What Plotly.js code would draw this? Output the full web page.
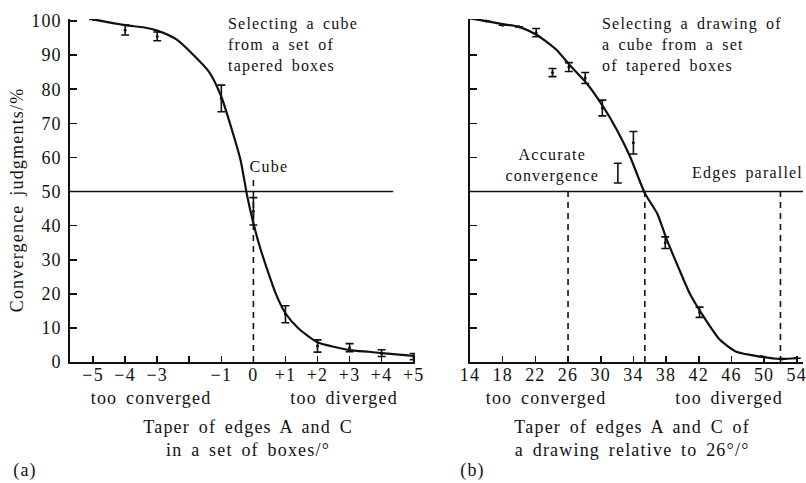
<!DOCTYPE html>
<html>
<head>
<meta charset="utf-8">
<script src="https://cdn.plot.ly/plotly-3.0.1.min.js"></script>
<style>
  html, body { margin: 0; padding: 0; background: #fff; }
  #chart text { letter-spacing: 1.2px; word-spacing: 3px; }
</style>
</head>
<body>
<div id="chart" style="width:806px;height:483px;"></div>
<script>
// ---- Panel (a) data ----
const curveA_x = [-5, -4, -3.4, -3, -2.4, -1.4, -1, -0.7, -0.4, -0.2, 0, 0.2, 0.4, 0.7, 1, 1.4, 2, 3, 3.6, 4, 5];
const curveA_y = [100.5, 98.8, 98.1, 97.2, 94.6, 85.3, 77.8, 69, 59.2, 49, 40.7, 33.8, 28, 20, 14.3, 9.9, 5.8, 3.5, 3.0, 2.6, 1.8];
const errA_x = [-5, -4, -3, -1, 0, 1, 2, 3, 4, 5];
const errA_y = [100.5, 97.4, 95.5, 77.3, 44.2, 14, 4.7, 4.2, 2.6, 1.6];
const errA_e = [0, 1.5, 1.3, 3.9, 4.0, 2.5, 1.8, 1.2, 1.0, 0.9];
const tickA_vals = [-5, -4, -3, -2, -1, 0, 1, 2, 3, 4, 5];
const tickA_text = ["\u22125", "\u22124", "\u22123", "", "\u22121", "0", "+1", "+2", "+3", "+4", "+5"];

// ---- Panel (b) data ----
const curveB_x = [14, 16, 18, 20, 22.2, 24.6, 26.2, 28.3, 30.3, 32, 33.6, 35.4, 36.9, 38.1, 39.3, 40.9, 42.2, 44.6, 46.6, 49.5, 52, 54];
const curveB_y = [100.8, 100, 99.1, 98.3, 95.9, 91.5, 87.1, 81.7, 74.9, 68, 60.2, 49.5, 43.6, 35.8, 28.9, 20.1, 14.8, 6.5, 3.0, 1.6, 0.9, 1.1];
const errB_x = [16, 18, 20, 22.1, 24.1, 26.1, 28.1, 30.2, 34, 37.9, 42.1, 49.7, 52.2, 54];
const errB_y = [100, 98.8, 98.3, 96.6, 84.9, 86.5, 83.3, 74.5, 64.3, 35, 14.6, 1.6, 0.9, 1.1];
const errB_e = [0, 0, 0, 1.2, 1.2, 1.3, 1.6, 2.3, 3.3, 1.7, 1.5, 0, 0, 0];
const barB_x = [32.1];   // error bar drawn without a centre dot
const barB_y = [55.4];
const barB_e = [2.9];
const tickB_vals = [14, 18, 22, 26, 30, 34, 38, 42, 46, 50, 54];
const yTicks = [0, 10, 20, 30, 40, 50, 60, 70, 80, 90, 100];

// reference lines
const refLevel = 50;
const cubeX = 0;
const dashedB = [26, 35.4, 52];

const W = 806, H = 483;
const px = v => v / W;
const py = v => 1 - v / H;
const FONT = "Liberation Serif, Times New Roman, serif";

const lineStyle = {color: "#111", width: 2.2};
const errStyle = (arr) => ({type: "data", array: arr, visible: true, color: "#111", thickness: 1.6, width: 4});

const traces = [
  {x: curveA_x, y: curveA_y, mode: "lines", line: Object.assign({shape: "spline", smoothing: 0.6}, lineStyle), xaxis: "x", yaxis: "y", hoverinfo: "skip"},
  {x: errA_x, y: errA_y, mode: "markers", marker: {size: 3, color: "#111"}, error_y: errStyle(errA_e), xaxis: "x", yaxis: "y"},
  {x: curveB_x, y: curveB_y, mode: "lines", line: Object.assign({shape: "spline", smoothing: 0.6}, lineStyle), xaxis: "x2", yaxis: "y2", hoverinfo: "skip"},
  {x: errB_x, y: errB_y, mode: "markers", marker: {size: 3, color: "#111"}, error_y: errStyle(errB_e), xaxis: "x2", yaxis: "y2"},
  {x: barB_x, y: barB_y, mode: "markers", marker: {size: 1, color: "rgba(0,0,0,0)"}, error_y: errStyle(barB_e), xaxis: "x2", yaxis: "y2"}
];

const axisCommon = {
  showgrid: false, zeroline: false, showline: true, linecolor: "#111", linewidth: 1.6,
  ticks: "inside", tickcolor: "#111", tickwidth: 1.6,
  tickfont: {family: FONT, size: 18, color: "#111"}, fixedrange: true
};

const yDomain = [py(362), py(19)];
const layout = {
  width: W, height: H,
  margin: {l: 0, r: 0, t: 0, b: 0},
  paper_bgcolor: "#fff", plot_bgcolor: "rgba(0,0,0,0)",
  showlegend: false,
  xaxis: Object.assign({}, axisCommon, {domain: [px(70), px(415)], range: [-5.72, 5.04], tickvals: tickA_vals, ticktext: tickA_text, ticklen: 6, anchor: "y", ticklabelstandoff: -4}),
  yaxis: Object.assign({}, axisCommon, {domain: yDomain, range: [0, 100.6], tickvals: yTicks, ticklen: 7, anchor: "x", ticklabelstandoff: 3}),
  xaxis2: Object.assign({}, axisCommon, {domain: [px(470), px(803)], range: [14, 54.76], tickvals: tickB_vals, ticklen: 6, anchor: "y2", ticklabelstandoff: -4}),
  yaxis2: Object.assign({}, axisCommon, {domain: yDomain, range: [0, 100.6], tickvals: yTicks.slice(1, 10), showticklabels: false, ticklen: 7, anchor: "x2"}),
  shapes: [
    {type: "line", xref: "x", yref: "y", x0: -5.72, x1: 4.36, y0: refLevel, y1: refLevel, line: {color: "#111", width: 1.6}},
    {type: "line", xref: "x", yref: "y", x0: cubeX, x1: cubeX, y0: 0, y1: 54, line: {color: "#111", width: 1.6, dash: "6px,5px"}},
    {type: "line", xref: "x2", yref: "y2", x0: 14, x1: 54.76, y0: refLevel, y1: refLevel, line: {color: "#111", width: 1.6}}
  ].concat(dashedB.map(v => ({type: "line", xref: "x2", yref: "y2", x0: v, x1: v, y0: 0, y1: 50.5, line: {color: "#111", width: 1.6, dash: "6px,5px"}}))),
  annotations: []
};

function note(text, x, y, opts) {
  layout.annotations.push(Object.assign({
    text: text, xref: "paper", yref: "paper", x: px(x), y: py(y), showarrow: false,
    xanchor: "center", yanchor: "middle", font: {family: FONT, size: 18, color: "#111"}
  }, opts || {}));
}
const small = {family: FONT, size: 16, color: "#111"};

note("Convergence judgments/%", 17, 200, {textangle: -90});
note("too converged", 151, 398);
note("too diverged", 344, 398);
note("Taper of edges A and C<br>in a set of boxes/\u00b0", 248, 438);
note("(a)", 25, 470, {xanchor: "center"});
note("Selecting a cube<br>from a set of<br>tapered boxes", 226, 45, {xanchor: "left", align: "left", font: small});
note("Cube", 250, 167, {xanchor: "left", font: small});

note("too converged", 546, 398);
note("too diverged", 729, 398);
note("Taper of edges A and C of<br>a drawing relative to 26\u00b0/\u00b0", 632, 438);
note("(b)", 472, 470);
note("Selecting a drawing of<br>a cube from a set<br>of tapered boxes", 600, 45, {xanchor: "left", align: "left", font: small});
note("Accurate<br>convergence", 552, 165, {font: small});
note("Edges parallel", 748, 173, {font: small});

Plotly.newPlot("chart", traces, layout, {displayModeBar: false, staticPlot: true});
</script>
</body>
</html>
